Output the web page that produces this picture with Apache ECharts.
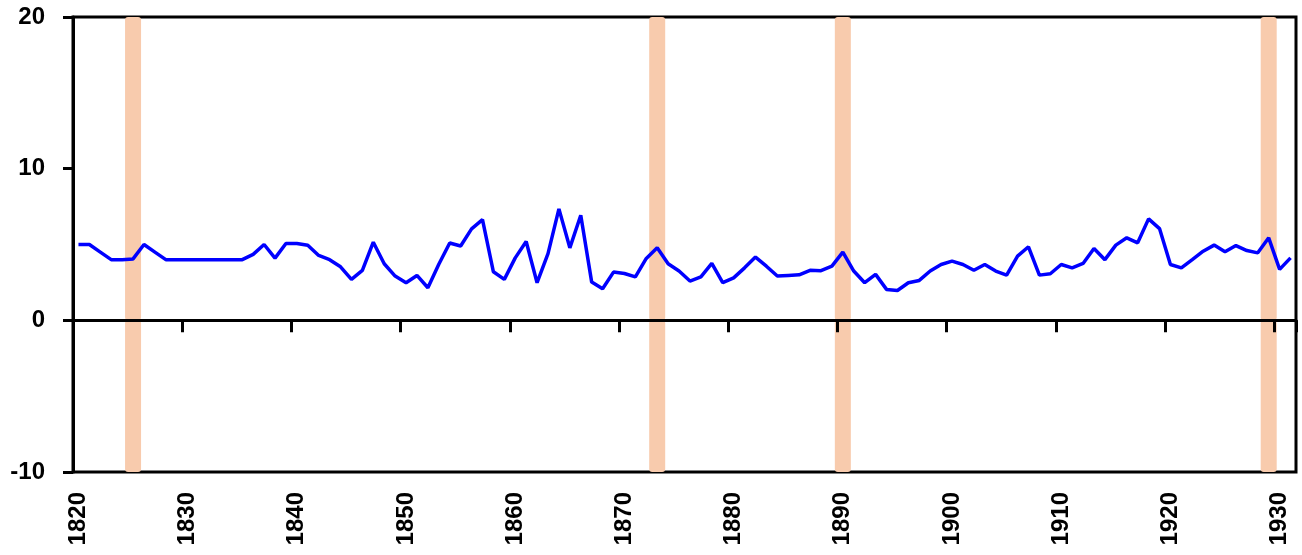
<!DOCTYPE html>
<html>
<head>
<meta charset="utf-8">
<script src="https://cdn.jsdelivr.net/npm/echarts@6/dist/echarts.min.js"></script>
<style>
html,body{margin:0;padding:0;background:#fff;}
#chart{width:1302px;height:555px;}
</style>
</head>
<body>
<div id="chart"></div>
<script>
const years = [];
for (let y = 1820; y <= 1931; y++) years.push(String(y));

const values = [
  5.0, 5.0, 4.5, 4.0, 4.0, 4.05, 5.0, 4.5, 4.0, 4.0,
  4.0, 4.0, 4.0, 4.0, 4.0, 4.0, 4.35, 5.0, 4.1, 5.07,
  5.07, 4.95, 4.28, 4.0, 3.53, 2.7, 3.3, 5.15, 3.73, 2.92,
  2.48, 2.96, 2.15, 3.7, 5.1, 4.9, 6.03, 6.64, 3.2, 2.7,
  4.12, 5.2, 2.48, 4.4, 7.35, 4.78, 6.93, 2.52, 2.08, 3.18,
  3.09, 2.87, 4.08, 4.78, 3.73, 3.25, 2.59, 2.87, 3.75, 2.48,
  2.8, 3.46, 4.17, 3.57, 2.92, 2.96, 3.0, 3.3, 3.27, 3.57,
  4.5, 3.25, 2.48, 3.03, 2.04, 1.97, 2.48, 2.63, 3.25, 3.68,
  3.9, 3.68, 3.3, 3.68, 3.25, 2.98, 4.23, 4.85, 2.98, 3.07,
  3.68, 3.46, 3.75, 4.74, 4.0, 4.96, 5.44, 5.11, 6.69, 6.05,
  3.68, 3.46, 4.0, 4.56, 4.96, 4.52, 4.93, 4.6, 4.45, 5.44,
  3.36, 4.12
];

const markedYears = ['1825', '1873', '1890', '1929'];
const yMin = -10, yMax = 20, yStep = 10;

const bandUp = years.map(y => markedYears.includes(y) ? yMax : '-');
const bandDown = years.map(y => markedYears.includes(y) ? yMin : '-');

const labelFont = { fontFamily: 'Liberation Sans', fontWeight: 'bold', fontSize: 24, color: '#000' };

const chart = echarts.init(document.getElementById('chart'), null, { renderer: 'canvas' });
chart.setOption({
  animation: false,
  backgroundColor: '#fff',
  grid: {
    left: 73, right: 6, top: 17, bottom: 83,
    show: true, borderColor: '#000', borderWidth: 3, backgroundColor: 'transparent'
  },
  xAxis: [
    {
      type: 'category', data: years, position: 'bottom', boundaryGap: true,
      axisLine: { onZero: true, lineStyle: { color: '#000', width: 3 } },
      axisTick: { show: true, interval: 9, length: 12, lineStyle: { color: '#000', width: 3 } },
      axisLabel: { show: false },
      splitLine: { show: false }, z: 5
    },
    {
      type: 'category', data: years, position: 'bottom', boundaryGap: true,
      axisLine: { show: false, onZero: false },
      axisTick: { show: false },
      axisLabel: Object.assign({ show: true, interval: 9, rotate: 90, margin: 20 }, labelFont),
      splitLine: { show: false }
    }
  ],
  yAxis: {
    type: 'value', min: yMin, max: yMax, interval: yStep,
    axisLine: { show: true, onZero: false, lineStyle: { color: '#000', width: 3 } },
    axisTick: { show: true, length: 10, lineStyle: { color: '#000', width: 3 } },
    axisLabel: Object.assign({ margin: 28 }, labelFont),
    splitLine: { show: false }, z: 5
  },
  series: [
    {
      type: 'bar', stack: 'band', data: bandUp, xAxisIndex: 0, barWidth: 16,
      itemStyle: { color: '#F8CBAD', borderRadius: 3 }, z: 1, silent: true
    },
    {
      type: 'bar', stack: 'band', data: bandDown, xAxisIndex: 0, barWidth: 16,
      itemStyle: { color: '#F8CBAD', borderRadius: 3 }, z: 1, silent: true
    },
    {
      type: 'line', data: values, xAxisIndex: 0, symbol: 'none',
      lineStyle: { color: '#0000FF', width: 3.5 }, z: 10
    }
  ]
});
</script>
</body>
</html>
